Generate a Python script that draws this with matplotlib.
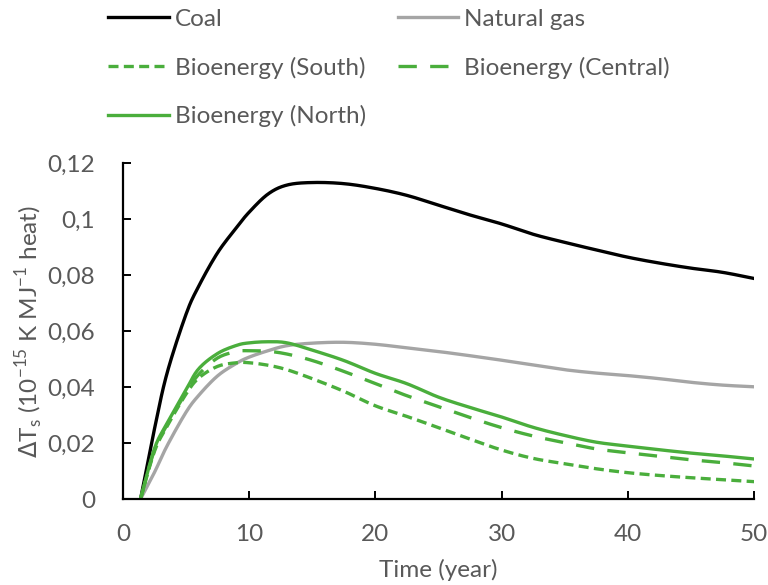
import matplotlib
matplotlib.use("Agg")
import numpy as np
import matplotlib.pyplot as plt
from matplotlib.ticker import FuncFormatter

years = [1.4, 2.5, 3.5, 5, 6, 7.5, 9, 10, 11.5, 13, 15, 17.5, 20, 22.5, 25,
         27.5, 30, 32.5, 35, 37.5, 40, 42.5, 45, 47.5, 50]

coal = [0, 0.025, 0.045, 0.066, 0.076, 0.088, 0.097, 0.1025, 0.109, 0.1122,
        0.1131, 0.1127, 0.111, 0.1085, 0.105, 0.1015, 0.0983, 0.0946, 0.0917,
        0.089, 0.0864, 0.0843, 0.0825, 0.081, 0.0788]
natural_gas = [0, 0.0095, 0.019, 0.031, 0.037, 0.044, 0.0485, 0.0507, 0.053,
               0.0548, 0.0557, 0.056, 0.0553, 0.054, 0.0527, 0.0512, 0.0496,
               0.0479, 0.0462, 0.045, 0.0441, 0.043, 0.0417, 0.0407, 0.0401]
bio_south = [0, 0.017, 0.026, 0.0375, 0.0432, 0.0474, 0.0487, 0.0487, 0.0478,
             0.0462, 0.043, 0.0385, 0.0333, 0.0295, 0.0255, 0.0214, 0.0175,
             0.0145, 0.0126, 0.0108, 0.0094, 0.0084, 0.0076, 0.0069, 0.0062]
bio_central = [0, 0.0175, 0.0265, 0.038, 0.0445, 0.0504, 0.0527, 0.053, 0.0528,
               0.0518, 0.0495, 0.0456, 0.0412, 0.0369, 0.033, 0.0291, 0.0255,
               0.0225, 0.0201, 0.0179, 0.0165, 0.0152, 0.014, 0.013, 0.0118]
bio_north = [0, 0.018, 0.027, 0.039, 0.0465, 0.052, 0.0549, 0.0558, 0.0562,
             0.0558, 0.0532, 0.0495, 0.0449, 0.0412, 0.0364, 0.0327, 0.0293,
             0.0256, 0.0227, 0.0203, 0.0189, 0.0176, 0.0164, 0.0154, 0.0143]

x_ticks = [0, 10, 20, 30, 40, 50]
y_ticks = [0, 0.02, 0.04, 0.06, 0.08, 0.1, 0.12]


def smooth(xs, ys, n=12):
    """Catmull-Rom rendering of the line (like a spreadsheet 'smoothed line')."""
    p = np.column_stack([xs, ys]).astype(float)
    p = np.vstack([p[0], p, p[-1]])
    out = []
    t = np.linspace(0, 1, n, endpoint=False)[:, None]
    for i in range(1, len(p) - 2):
        p0, p1, p2, p3 = p[i - 1], p[i], p[i + 1], p[i + 2]
        seg = 0.5 * ((2 * p1) + (-p0 + p2) * t + (2 * p0 - 5 * p1 + 4 * p2 - p3) * t ** 2
                     + (-p0 + 3 * p1 - 3 * p2 + p3) * t ** 3)
        out.append(seg)
    out.append(p[-2][None, :])
    out = np.vstack(out)
    return out[:, 0], out[:, 1]


plt.rcParams['font.family'] = ['Lato', 'DejaVu Sans']
TXT = '#595959'
GREEN = '#4AAE3C'
FS = 17.5

fig = plt.figure(figsize=(7.68, 5.85), dpi=100)
ax = fig.add_axes([0.160, 0.147, 0.822, 0.574])

lw = 2.4
l1, = ax.plot(*smooth(years, coal), color='black', lw=lw, label='Coal')
l2, = ax.plot(*smooth(years, natural_gas), color='#A5A5A5', lw=lw, label='Natural gas')
l3, = ax.plot(*smooth(years, bio_south), color=GREEN, lw=lw, ls=(0, (3.0, 1.6)),
              label='Bioenergy (South)')
l4, = ax.plot(*smooth(years, bio_central), color=GREEN, lw=lw, ls=(0, (5.5, 4.0)),
              label='Bioenergy (Central)')
l5, = ax.plot(*smooth(years, bio_north), color=GREEN, lw=lw, label='Bioenergy (North)')

ax.set_xlim(0, 50)
ax.set_ylim(0, 0.12)
ax.set_xticks(x_ticks)
ax.set_yticks(y_ticks)
ax.yaxis.set_major_formatter(FuncFormatter(lambda v, p: ('%g' % round(v, 4)).replace('.', ',')))
for s in ['top', 'right']:
    ax.spines[s].set_visible(False)
for s in ['left', 'bottom']:
    ax.spines[s].set_linewidth(1.6)
    ax.spines[s].set_color('black')
ax.tick_params(axis='both', direction='in', length=6, width=1.4, colors='black',
               labelcolor=TXT, labelsize=FS)
ax.tick_params(axis='x', pad=18)
ax.tick_params(axis='y', pad=20)

ax.set_xlabel('Time (year)', fontsize=FS, color=TXT, labelpad=10)
ax.set_ylabel(r'$\Delta$T$_\mathregular{s}$ (10$^{\mathregular{-15}}$ K MJ$^{\mathregular{-1}}$ heat)',
              fontsize=FS, color=TXT, labelpad=1)

# column-major fill: col1 = Coal, South, North ; col2 = Natural gas, Central
leg = fig.legend(handles=[l1, l3, l5, l2, l4], ncol=2, loc='upper left',
                 bbox_to_anchor=(108 / 768, 0.985), frameon=False, fontsize=FS,
                 handlelength=2.5, handletextpad=0.25, columnspacing=1.3,
                 labelspacing=1.1, borderpad=0, borderaxespad=0)
for t in leg.get_texts():
    t.set_color(TXT)

fig.savefig('out.png', dpi=100)
